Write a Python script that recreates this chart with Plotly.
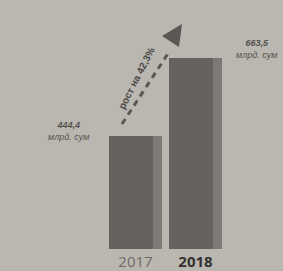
import plotly.graph_objects as go

years = ["2017", "2018"]
values = [444.4, 663.5]
value_labels = ["<b>444,4</b><br>млрд. сум", "<b>663,5</b><br>млрд. сум"]
growth_label = "<b>рост на 42,3%</b>"
tick_text = ["<span style='color:#6f6c68'>2017</span>",
             "<span style='color:#33312f'><b>2018</b></span>"]

W, H = 283, 271
T, B = 0, 22
PH = H - T - B

def px(x):
    return x / W

def py(y):
    return (H - B - y) / PH

fig = go.Figure()
# front faces
fig.add_trace(go.Bar(x=years, y=values, width=0.74, offset=-0.44,
                     marker=dict(color="#666260", line=dict(width=0)),
                     hoverinfo="skip"))
# side faces
fig.add_trace(go.Bar(x=years, y=values, width=0.15, offset=0.29,
                     marker=dict(color="#7d7976", line=dict(width=0)),
                     hoverinfo="skip"))

lab_font = dict(family="Liberation Sans", size=9, color="#55524f", style="italic")
annotations = [
    dict(x=px(68), y=py(131), xref="paper", yref="paper", text=value_labels[0],
         xanchor="center", yanchor="middle", showarrow=False, font=lab_font, align="center"),
    dict(x=px(256), y=py(49), xref="paper", yref="paper", text=value_labels[1],
         xanchor="center", yanchor="middle", showarrow=False, font=lab_font, align="center"),
    dict(x=px(136), y=py(78), xref="paper", yref="paper", text=growth_label,
         xanchor="center", yanchor="middle", showarrow=False, textangle=-63,
         font=dict(family="Liberation Sans", size=10, color="#4a4845")),
]

shapes = [
    dict(type="line", xref="paper", yref="paper",
         x0=px(122), y0=py(124), x1=px(169), y1=py(52),
         line=dict(color="#5a5754", width=3, dash="6px,5px")),
    dict(type="path", xref="paper", yref="paper",
         path=f"M {px(182)} {py(24)} L {px(162)} {py(36)} L {px(179)} {py(47)} Z",
         fillcolor="#5a5754", line=dict(width=0)),
]

fig.update_layout(
    width=W, height=H,
    margin=dict(l=0, r=0, t=T, b=B),
    paper_bgcolor="#bab7b0", plot_bgcolor="#bab7b0",
    barmode="overlay", showlegend=False, bargap=0,
    annotations=annotations, shapes=shapes,
    xaxis=dict(type="category", range=[-2.26, 2.46], tickvals=years, ticktext=tick_text,
               showgrid=False, zeroline=False, showline=False, ticks="",
               ticklabelstandoff=2, automargin=False,
               tickfont=dict(family="Open Sans", size=15)),
    yaxis=dict(range=[127, 826.5], visible=False, showgrid=False, automargin=False),
)

fig.write_html("out.html", config={"displayModeBar": False, "staticPlot": True},
               post_script="document.body.style.margin='0';document.body.style.background='#bab7b0';document.body.style.overflow='hidden';")
